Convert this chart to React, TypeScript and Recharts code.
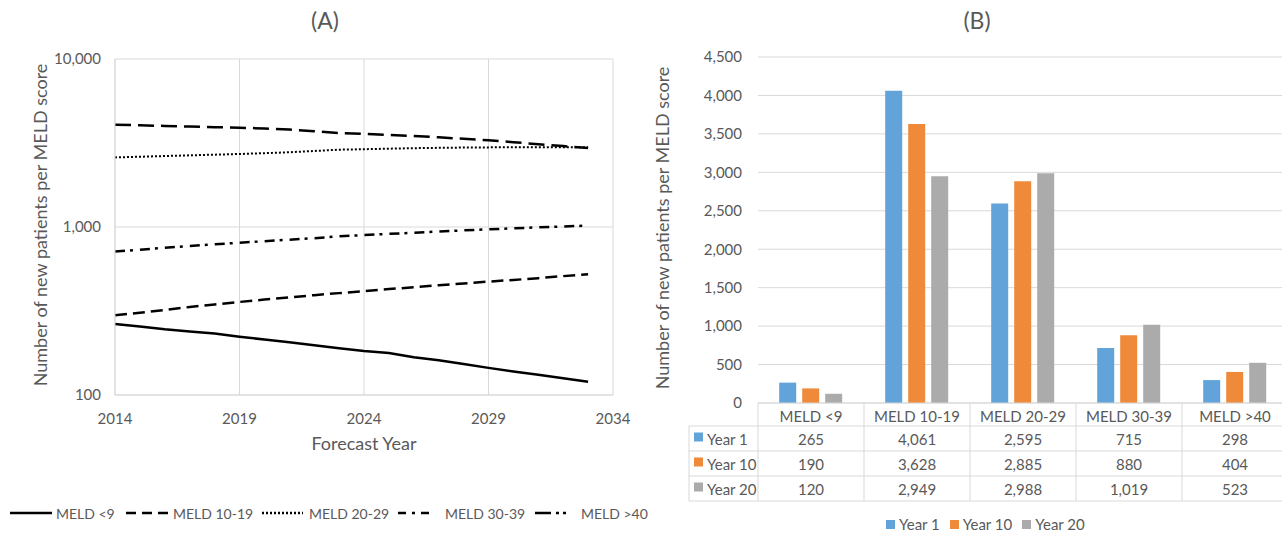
import React from 'react';
import { LineChart, Line, BarChart, Bar, XAxis, YAxis, CartesianGrid } from 'recharts';

// Panel A: forecast of new patients per MELD score (log scale)
const years = [2014, 2015, 2016, 2017, 2018, 2019, 2020, 2021, 2022, 2023, 2024, 2025, 2026, 2027, 2028, 2029, 2030, 2031, 2032, 2033];
const meldUnder9 = [265, 256, 246, 239, 232, 222, 214, 206, 198, 190, 183, 178, 168, 161, 153, 145, 138, 132, 126, 120];
const meld10to19 = [4061, 4030, 3995, 3960, 3930, 3900, 3860, 3800, 3720, 3628, 3580, 3530, 3480, 3420, 3350, 3280, 3200, 3110, 3030, 2949];
const meld20to29 = [2595, 2620, 2645, 2670, 2695, 2720, 2750, 2785, 2835, 2885, 2905, 2925, 2945, 2960, 2970, 2978, 2983, 2986, 2988, 2988];
const meld30to39 = [715, 733, 752, 770, 789, 806, 823, 840, 858, 880, 895, 910, 925, 940, 955, 968, 982, 995, 1007, 1019];
const meldOver40 = [298, 309, 321, 334, 346, 358, 370, 381, 393, 404, 415, 427, 438, 450, 461, 473, 484, 496, 510, 523];
const logTicks = [100, 1000, 10000];
const yearTicks = [2014, 2019, 2024, 2029, 2034];

// Panel B: bars + data table
const categories = ['MELD <9', 'MELD 10-19', 'MELD 20-29', 'MELD 30-39', 'MELD >40'];
const year1 = [265, 4061, 2595, 715, 298];
const year10 = [190, 3628, 2885, 880, 404];
const year20 = [120, 2949, 2988, 1019, 523];
const barTicks = [0, 500, 1000, 1500, 2000, 2500, 3000, 3500, 4000, 4500];

const lineData = years.map((year, i) => ({
  year,
  m9: meldUnder9[i],
  m10: meld10to19[i],
  m20: meld20to29[i],
  m30: meld30to39[i],
  m40: meldOver40[i],
}));

const barData = categories.map((cat, i) => ({ cat, y1: year1[i], y10: year10[i], y20: year20[i] }));

const TEXT = '#595959';
const GRID = '#d9d9d9';
const FONT = 'Lato, "Open Sans", sans-serif';

const lineSeries = [
  { key: 'm9', dash: undefined, width: 2.5 },
  { key: 'm10', dash: '16 7', width: 2.5 },
  { key: 'm20', dash: '2 2', width: 2 },
  { key: 'm30', dash: '10 5 3 7', width: 2.5 },
  { key: 'm40', dash: '12 6', width: 2.5 },
];

const legendA = [
  { name: 'MELD <9', left: 10, sw: 42, gap: 4, dash: undefined },
  { name: 'MELD 10-19', left: 126, sw: 42, gap: 5, dash: '10 6' },
  { name: 'MELD 20-29', left: 262, sw: 41, gap: 6, dash: '2 2' },
  { name: 'MELD 30-39', left: 398, sw: 34, gap: 13, dash: '8 6 3 6' },
  { name: 'MELD >40', left: 535, sw: 32, gap: 14, dash: '16 5 3 4 3 20' },
];

const barSeries = [
  { key: 'y1', name: 'Year 1', color: '#62A3DA', values: year1 },
  { key: 'y10', name: 'Year 10', color: '#EF8A3A', values: year10 },
  { key: 'y20', name: 'Year 20', color: '#ABABAB', values: year20 },
];

// bar chart layout
const B_W = 652;
const B_H = 510;
const B_TOP = 57;
const B_RIGHT = 4;
const B_YW = 118;
const B_XH = 107;
const B_BOTTOM = B_H - B_XH;
const COL_W = (B_W - B_YW - B_RIGHT) / categories.length;
const HEAD_H = 23;
const ROW_H = 25;

const fmt = (v: number) => v.toLocaleString('en-US');

function TableTick(props: any) {
  const { x, payload } = props;
  const i = payload.index;
  const left = x - COL_W / 2;
  const right = x + COL_W / 2;
  const top = B_BOTTOM;
  const bottom = top + HEAD_H + ROW_H * 3;
  const nameLeft = left - 69;
  return (
    <g>
      <line x1={left} x2={left} y1={top} y2={bottom} stroke={GRID} />
      {i === categories.length - 1 && <line x1={right} x2={right} y1={top} y2={bottom} stroke={GRID} />}
      {[0, 1, 2, 3].map(r => (
        <line key={r} x1={left} x2={right} y1={top + HEAD_H + r * ROW_H} y2={top + HEAD_H + r * ROW_H} stroke={GRID} />
      ))}
      <text x={x} y={top + HEAD_H / 2 + 1} textAnchor="middle" dominantBaseline="central" fill={TEXT} fontSize={15}>
        {payload.value}
      </text>
      {barSeries.map((s, r) => (
        <text key={s.key} x={x} y={top + HEAD_H + ROW_H * r + ROW_H / 2} textAnchor="middle" dominantBaseline="central" fill={TEXT} fontSize={15}>
          {fmt(s.values[i])}
        </text>
      ))}
      {i === 0 && (
        <g>
          <line x1={nameLeft} x2={nameLeft} y1={top + HEAD_H} y2={bottom} stroke={GRID} />
          {[0, 1, 2, 3].map(r => (
            <line key={r} x1={nameLeft} x2={left} y1={top + HEAD_H + r * ROW_H} y2={top + HEAD_H + r * ROW_H} stroke={GRID} />
          ))}
          {barSeries.map((s, r) => (
            <g key={s.key}>
              <rect x={nameLeft + 5} y={top + HEAD_H + ROW_H * r + ROW_H / 2 - 6} width={9} height={9} fill={s.color} />
              <text x={nameLeft + 18} y={top + HEAD_H + ROW_H * r + ROW_H / 2} dominantBaseline="central" fill={TEXT} fontSize={15}>
                {s.name}
              </text>
            </g>
          ))}
        </g>
      )}
    </g>
  );
}

const yTitle = 'Number of new patients per MELD score';

function RotatedTitle({ cx, cy, text }: { cx: number; cy: number; text: string }) {
  return (
    <div
      style={{
        position: 'absolute',
        left: cx - 250,
        top: cy - 12,
        width: 500,
        height: 24,
        lineHeight: '24px',
        textAlign: 'center',
        transform: 'rotate(-90deg)',
        fontSize: 18,
        color: TEXT,
        whiteSpace: 'nowrap',
      }}
    >
      {text}
    </div>
  );
}

export default function App() {
  return (
    <div
      style={{
        position: 'absolute',
        left: 0,
        top: 0,
        width: 1282,
        height: 535,
        overflow: 'hidden',
        background: '#fff',
        fontFamily: FONT,
        color: TEXT,
      }}
    >
      {/* (A) */}
      <div style={{ position: 'absolute', left: 275, top: 6, width: 100, textAlign: 'center', fontSize: 23 }}>(A)</div>
      <div style={{ position: 'absolute', left: 0, top: 0 }}>
        <LineChart width={640} height={470} data={lineData} margin={{ top: 59, right: 27, bottom: 0, left: 0 }}>
          <CartesianGrid stroke={GRID} horizontal vertical />
          <XAxis
            dataKey="year"
            type="number"
            domain={[2014, 2034]}
            ticks={yearTicks}
            height={75}
            tickLine={false}
            tickMargin={12}
            axisLine={{ stroke: GRID }}
            tick={{ fill: TEXT, fontSize: 15 }}
          />
          <YAxis
            scale="log"
            domain={[100, 10000]}
            ticks={logTicks}
            allowDataOverflow
            width={115}
            tickLine={false}
            tickMargin={8}
            axisLine={{ stroke: GRID }}
            tick={{ fill: TEXT, fontSize: 15 }}
            tickFormatter={fmt}
          />
          {lineSeries.map(s => (
            <Line
              key={s.key}
              type="linear"
              dataKey={s.key}
              stroke="#000"
              strokeWidth={s.width}
              strokeDasharray={s.dash}
              dot={false}
              isAnimationActive={false}
            />
          ))}
        </LineChart>
      </div>
      <RotatedTitle cx={40} cy={225} text={yTitle} />
      <div style={{ position: 'absolute', left: 264, top: 432, width: 200, textAlign: 'center', fontSize: 18 }}>Forecast Year</div>
      {legendA.map(l => (
        <div key={l.name} style={{ position: 'absolute', left: l.left, top: 503, height: 20, display: 'flex', alignItems: 'center', fontSize: 14, whiteSpace: 'nowrap' }}>
          <svg width={l.sw} height={6} style={{ marginRight: l.gap }}>
            <line x1={0} x2={l.sw} y1={3} y2={3} stroke="#000" strokeWidth={2.5} strokeDasharray={l.dash} />
          </svg>
          <span>{l.name}</span>
        </div>
      ))}

      {/* (B) */}
      <div style={{ position: 'absolute', left: 927, top: 6, width: 100, textAlign: 'center', fontSize: 23 }}>(B)</div>
      <div style={{ position: 'absolute', left: 640, top: 0 }}>
        <BarChart width={B_W} height={B_H} data={barData} margin={{ top: B_TOP, right: B_RIGHT, bottom: 0, left: 0 }} barCategoryGap="20%" barGap={6}>
          <CartesianGrid stroke={GRID} vertical={false} />
          <XAxis
            dataKey="cat"
            height={B_XH}
            tickLine={false}
            axisLine={{ stroke: GRID }}
            interval={0}
            tick={<TableTick />}
          />
          <YAxis
            domain={[0, 4500]}
            ticks={barTicks}
            width={B_YW}
            tickLine={false}
            tickMargin={10}
            axisLine={false}
            tick={{ fill: TEXT, fontSize: 15 }}
            tickFormatter={fmt}
          />
          {barSeries.map(s => (
            <Bar key={s.key} dataKey={s.key} name={s.name} fill={s.color} isAnimationActive={false} />
          ))}
        </BarChart>
      </div>
      <RotatedTitle cx={662} cy={228} text={yTitle} />
      <div style={{ position: 'absolute', left: 886, top: 515, display: 'flex', alignItems: 'center', fontSize: 15, whiteSpace: 'nowrap' }}>
        {barSeries.map(s => (
          <div key={s.key} style={{ display: 'flex', alignItems: 'center', marginRight: 10 }}>
            <span style={{ display: 'inline-block', width: 9, height: 9, background: s.color, marginRight: 4 }} />
            <span>{s.name}</span>
          </div>
        ))}
      </div>
    </div>
  );
}
